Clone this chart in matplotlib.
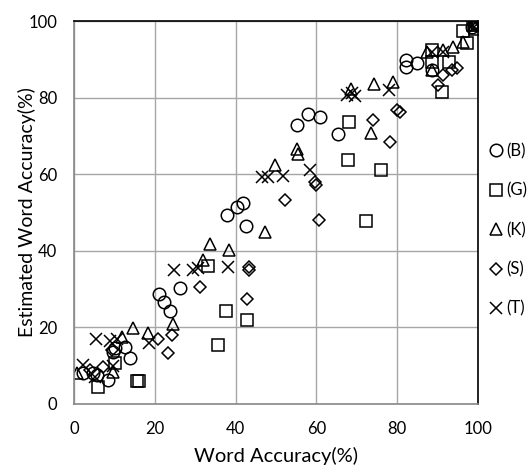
import matplotlib
matplotlib.use("Agg")
import matplotlib.pyplot as plt

plt.rcParams['font.family'] = ['Lato', 'DejaVu Sans']

# ---- data ----
b_x = [2.3, 4.8, 5.6, 8.5, 9.7, 10.1, 12.6, 13.9, 21.0, 22.4, 23.8, 26.2, 37.8, 40.3, 41.8, 42.6,
       55.1, 58.0, 61.0, 65.4, 82.3, 82.3, 84.8, 88.5, 98.5, 99.3]
b_y = [8.0, 8.0, 7.6, 6.3, 13.7, 14.5, 15.0, 11.9, 28.7, 26.7, 24.4, 30.2, 49.3, 51.5, 52.4, 46.5,
       72.8, 75.6, 75.0, 70.4, 89.8, 88.1, 89.0, 87.2, 98.5, 99.5]

g_x = [6.0, 10.1, 15.5, 16.2, 33.1, 35.7, 37.5, 42.9, 67.7, 68.1, 72.3, 76.0, 88.5, 88.5, 91.0,
       92.7, 96.4, 97.4, 98.7, 99.2, 100.0]
g_y = [4.5, 10.7, 6.0, 6.0, 36.0, 15.3, 24.3, 21.9, 63.7, 73.5, 47.9, 61.1, 92.4, 89.4, 81.5,
       89.4, 97.4, 94.2, 99.0, 97.8, 99.5]

k_x = [0.7, 9.7, 11.8, 14.5, 18.4, 24.4, 32.0, 33.7, 38.4, 47.4, 49.8, 55.1, 55.5, 68.6, 73.5,
       74.3, 78.9, 87.3, 88.7, 91.4, 93.7, 96.4, 99.0]
k_y = [8.0, 8.4, 17.6, 19.8, 18.6, 21.0, 37.6, 41.7, 40.2, 45.0, 62.4, 66.7, 65.4, 82.2, 70.7,
       83.5, 84.2, 92.0, 87.2, 92.4, 93.3, 94.6, 99.0]

s_x = [4.0, 7.3, 9.3, 20.9, 23.2, 24.2, 31.2, 42.9, 43.3, 43.3, 52.2, 59.7, 60.0, 60.7, 73.9,
       78.2, 79.9, 80.7, 90.2, 91.4, 93.5, 94.7, 99.5]
s_y = [8.9, 9.7, 14.0, 17.1, 13.2, 18.0, 30.6, 27.3, 35.9, 35.0, 53.3, 58.0, 57.3, 48.0, 74.1,
       68.5, 76.8, 76.3, 83.3, 85.9, 87.2, 87.6, 99.5]

t_x = [2.3, 5.2, 5.4, 8.9, 9.7, 10.6, 18.6, 24.8, 29.5, 30.8, 38.2, 46.5, 48.0, 51.8, 58.3,
       67.5, 68.7, 69.6, 78.0, 88.5, 91.4, 99.0, 99.5]
t_y = [10.2, 7.1, 17.0, 16.5, 10.0, 17.1, 15.8, 35.0, 35.0, 35.4, 35.9, 59.3, 59.3, 59.6, 61.2,
       80.7, 81.1, 80.4, 82.0, 92.0, 92.0, 98.5, 99.8]

series_labels = ['(B)', '(G)', '(K)', '(S)', '(T)']
ticks = [0, 20, 40, 60, 80, 100]
x_label = 'Word Accuracy(%)'
y_label = 'Estimated Word Accuracy(%)'

fig = plt.figure(figsize=(5.28, 4.72), dpi=100)
ax = fig.add_axes([74/528, 68/472, 404/528, 383/472])

mk = dict(linestyle='none', markerfacecolor='none', markeredgecolor='black',
          markeredgewidth=1.1, color='black')
h1, = ax.plot(b_x, b_y, marker='o', markersize=9, label=series_labels[0], **mk)
h2, = ax.plot(g_x, g_y, marker='s', markersize=8.5, label=series_labels[1], **mk)
h3, = ax.plot(k_x, k_y, marker='^', markersize=9, label=series_labels[2], **mk)
h4, = ax.plot(s_x, s_y, marker='D', markersize=6, label=series_labels[3], **mk)
h5, = ax.plot(t_x, t_y, marker='x', markersize=8.5, label=series_labels[4], **mk)

ax.set_xlim(0, 100)
ax.set_ylim(0, 100)
ax.set_xticks(ticks)
ax.set_yticks(ticks)
ax.grid(True, color='#a6a6a6', linewidth=1.0)
ax.set_axisbelow(True)
ax.tick_params(length=0, labelsize=12, colors='black')
ax.tick_params(axis='x', pad=12)
ax.tick_params(axis='y', pad=12)
for side in ['left', 'bottom']:
    ax.spines[side].set_color('#888888')
    ax.spines[side].set_linewidth(1.2)
for side in ['top', 'right']:
    ax.spines[side].set_color('black')
    ax.spines[side].set_linewidth(1.2)

ax.set_xlabel(x_label, fontsize=14.5)
ax.set_ylabel(y_label, fontsize=14)
ax.xaxis.set_label_coords(0.5, -0.112)
ax.yaxis.set_label_coords(-0.093, 0.5)

leg = ax.legend(handles=[h1, h2, h3, h4, h5], loc='upper left',
                bbox_to_anchor=(1.0, 0.712), frameon=False, fontsize=12,
                handlelength=0.8, handletextpad=0.2, labelspacing=1.4,
                borderaxespad=0.3)

fig.savefig('out.png', dpi=100)
